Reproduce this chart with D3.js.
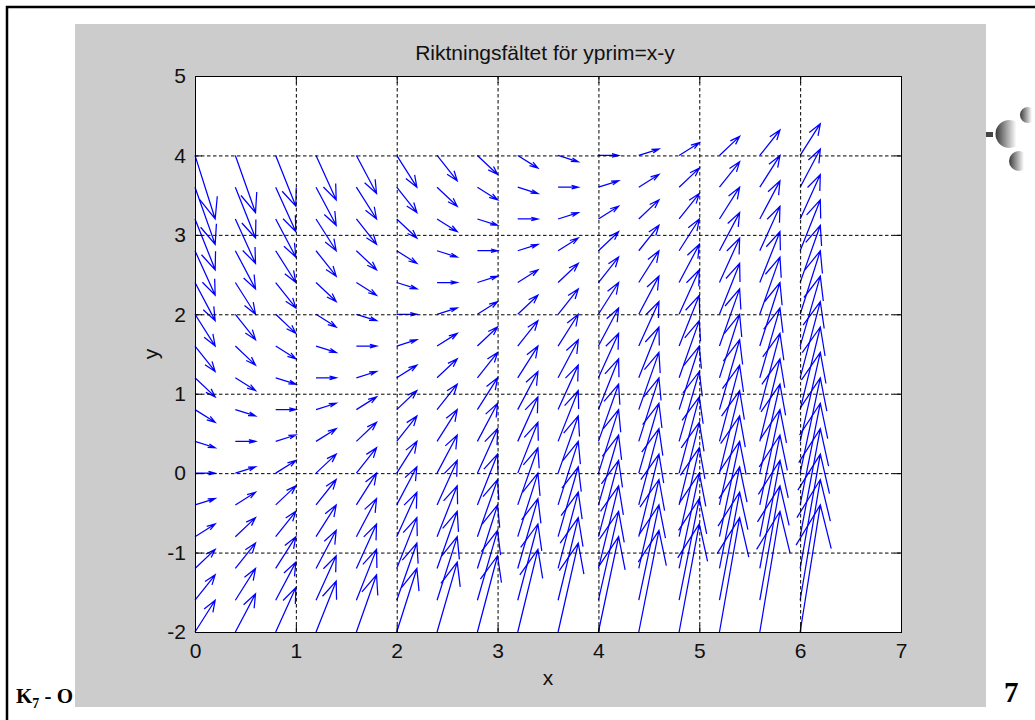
<!DOCTYPE html>
<html>
<head>
<meta charset="utf-8">
<script src="https://cdn.jsdelivr.net/npm/d3@7"></script>
<style>
  body { margin: 0; background: #fff; }
  svg { display: block; }
</style>
</head>
<body>
<div id="chart"></div>
<script>
// grid of the direction field, x = 0:0.4:2*pi, y = -2:0.4:4
const xs = [0, 0.4, 0.8, 1.2, 1.6, 2.0, 2.4, 2.8, 3.2, 3.6, 4.0, 4.4, 4.8, 5.2, 5.6, 6.0];
const ys = [-2, -1.6, -1.2, -0.8, -0.4, 0, 0.4, 0.8, 1.2, 1.6, 2.0, 2.4, 2.8, 3.2, 3.6, 4.0];
const xTicks = [0, 1, 2, 3, 4, 5, 6, 7];
const yTicks = [-2, -1, 0, 1, 2, 3, 4, 5];
const titleText = "Riktningsfältet för yprim=x-y";

// y' = x - y  (from the title)
const yprim = (x, y) => x - y;
const arrowScale = 0.2;
const alpha = 0.33, beta = 0.33; // quiver head size

const width = 1035, height = 720;
const svg = d3.select("#chart").append("svg").attr("width", width).attr("height", height);

// slide footer text (partly hidden under the figure)
const foot = svg.append("text")
  .attr("x", 16).attr("y", 703)
  .attr("font-family", "Liberation Serif, Times New Roman, serif")
  .attr("font-weight", "bold").attr("font-size", 21);
foot.append("tspan").text("K");
foot.append("tspan").attr("font-size", 14).attr("dy", 5).text("7");
foot.append("tspan").attr("dy", -5).text(" - O");

svg.append("text")
  .attr("x", 1004).attr("y", 702)
  .attr("font-family", "Liberation Serif, Times New Roman, serif")
  .attr("font-weight", "bold").attr("font-size", 29)
  .text("7");

// slide frame
svg.append("path")
  .attr("d", "M7,720 V7 H1035")
  .attr("fill", "none").attr("stroke", "#000").attr("stroke-width", 2.5);

// decoration top right
const defs = svg.append("defs");
const grad = defs.append("linearGradient").attr("id", "ball").attr("x1", 0).attr("x2", 1).attr("y1", 0).attr("y2", 0);
grad.append("stop").attr("offset", "0%").attr("stop-color", "#3a3a3a");
grad.append("stop").attr("offset", "75%").attr("stop-color", "#fff");
grad.append("stop").attr("offset", "100%").attr("stop-color", "#fff");
svg.append("rect").attr("x", 986).attr("y", 132).attr("width", 7).attr("height", 5).attr("fill", "#444");
[[1009.5, 134, 14], [1028, 115, 8], [1019, 161, 10]].forEach(([cx, cy, r]) => {
  svg.append("circle").attr("cx", cx).attr("cy", cy).attr("r", r).attr("fill", "url(#ball)");
});

// figure background
svg.append("rect").attr("x", 75).attr("y", 24).attr("width", 911).attr("height", 683).attr("fill", "#cccccc");

const x = d3.scaleLinear().domain([0, 7]).range([195, 901]);
const y = d3.scaleLinear().domain([-2, 5]).range([632, 76]);

svg.append("rect")
  .attr("x", x(0)).attr("y", y(5))
  .attr("width", x(7) - x(0)).attr("height", y(-2) - y(5))
  .attr("fill", "#fff");

// arrows
const field = [];
xs.forEach((px) => ys.forEach((py) => field.push({ x: px, y: py })));

function arrowPath(d) {
  const u = arrowScale * 1;
  const v = arrowScale * yprim(d.x, d.y);
  const tx = d.x + u, ty = d.y + v;
  const h1x = tx - alpha * (u + beta * v), h1y = ty - alpha * (v - beta * u);
  const h2x = tx - alpha * (u - beta * v), h2y = ty - alpha * (v + beta * u);
  return `M${x(d.x)},${y(d.y)}L${x(tx)},${y(ty)}` +
    `M${x(h1x)},${y(h1y)}L${x(tx)},${y(ty)}L${x(h2x)},${y(h2y)}`;
}

svg.append("g")
  .selectAll("path")
  .data(field)
  .join("path")
  .attr("d", arrowPath)
  .attr("fill", "none")
  .attr("stroke", "#0000ff")
  .attr("stroke-width", 1.25);

// grid
const grid = svg.append("g").attr("stroke", "#000").attr("stroke-dasharray", "3.5,2.5").attr("stroke-width", 1);
grid.selectAll(".gx").data(xTicks.slice(1, -1)).join("line")
  .attr("x1", (d) => x(d) + 0.5).attr("x2", (d) => x(d) + 0.5)
  .attr("y1", y(5)).attr("y2", y(-2));
grid.selectAll(".gy").data(yTicks.slice(1, -1)).join("line")
  .attr("y1", (d) => y(d) + 0.5).attr("y2", (d) => y(d) + 0.5)
  .attr("x1", x(0)).attr("x2", x(7));

// axes
const font = "Liberation Sans, Arial, Helvetica, sans-serif";
function styleAxis(g) {
  g.attr("font-size", 21).attr("font-family", font);
  g.select(".domain").remove();
  g.selectAll(".tick line").attr("stroke", "#000");
  g.selectAll(".tick text").attr("fill", "#111");
}
svg.append("g").attr("transform", `translate(0,${y(-2)})`)
  .call(d3.axisBottom(x).tickValues(xTicks).tickFormat(d3.format("d")).tickSize(-7).tickPadding(11))
  .call(styleAxis);
svg.append("g").attr("transform", `translate(${x(0)},0)`)
  .call(d3.axisLeft(y).tickValues(yTicks).tickFormat((d) => d3.format("d")(d).replace("\u2212", "-")).tickSize(-7).tickPadding(9))
  .call(styleAxis);
svg.append("g").attr("transform", `translate(0,${y(5)})`)
  .call(d3.axisTop(x).tickValues(xTicks).tickFormat("").tickSize(-7))
  .call(styleAxis);
svg.append("g").attr("transform", `translate(${x(7)},0)`)
  .call(d3.axisRight(y).tickValues(yTicks).tickFormat("").tickSize(-7))
  .call(styleAxis);

svg.append("rect")
  .attr("x", x(0) + 0.5).attr("y", y(5) + 0.5)
  .attr("width", x(7) - x(0)).attr("height", y(-2) - y(5))
  .attr("fill", "none").attr("stroke", "#000").attr("stroke-width", 1);

// labels
svg.append("text").attr("x", 545).attr("y", 60).attr("text-anchor", "middle")
  .attr("font-family", font).attr("font-size", 21).attr("fill", "#111").text(titleText);
svg.append("text").attr("x", 548).attr("y", 685).attr("text-anchor", "middle")
  .attr("font-family", font).attr("font-size", 21).attr("fill", "#111").text("x");
svg.append("text").attr("transform", "translate(158,354) rotate(-90)").attr("text-anchor", "middle")
  .attr("font-family", font).attr("font-size", 21).attr("fill", "#111").text("y");
</script>
</body>
</html>
